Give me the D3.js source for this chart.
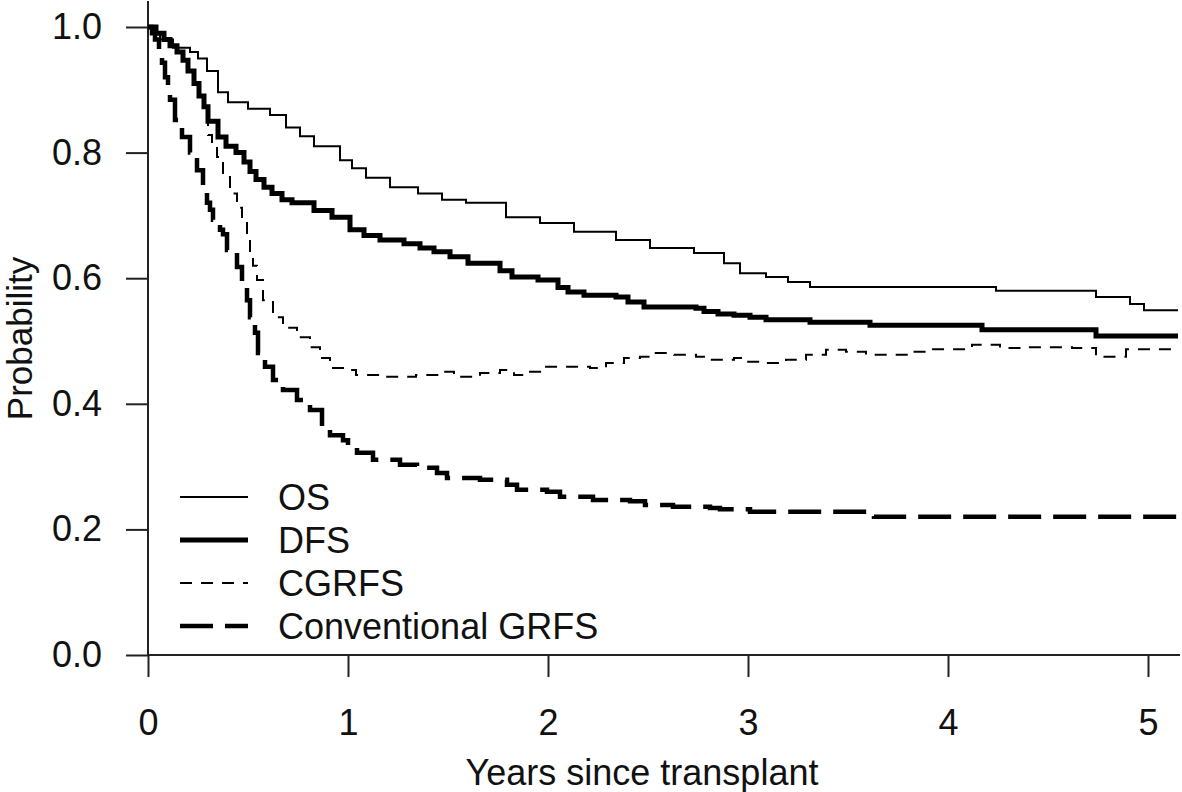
<!DOCTYPE html>
<html>
<head>
<meta charset="utf-8">
<script src="https://cdn.jsdelivr.net/npm/d3@7"></script>
<style>
  html, body { margin: 0; padding: 0; background: #fff; }
  svg text { font-family: "Liberation Sans", Arial, sans-serif; fill: #111; }
</style>
</head>
<body>
<svg id="chart" width="1182" height="792"></svg>
<script>
// ---- data ----
const seriesNames = ["OS", "DFS", "CGRFS", "Conventional GRFS"];

const osTime = [0, 0.02, 0.06, 0.125, 0.21, 0.25, 0.295, 0.35, 0.40, 0.5, 0.61, 0.69, 0.76, 0.83, 0.96, 1.02, 1.09, 1.21, 1.35, 1.47, 1.59, 1.79, 1.96, 2.13, 2.34, 2.51, 2.73, 2.88, 2.96, 3.09, 3.2, 3.31, 4.24, 4.74, 4.91, 4.98, 5.15];
const osSurv = [1.0, 0.99, 0.98, 0.967, 0.96, 0.95, 0.93, 0.896, 0.88, 0.87, 0.86, 0.84, 0.826, 0.81, 0.788, 0.775, 0.76, 0.745, 0.735, 0.725, 0.72, 0.697, 0.688, 0.674, 0.661, 0.648, 0.64, 0.624, 0.608, 0.602, 0.594, 0.586, 0.58, 0.57, 0.559, 0.549, 0.549];

const dfsTime = [0, 0.04, 0.08, 0.11, 0.145, 0.175, 0.2, 0.23, 0.255, 0.28, 0.3, 0.35, 0.39, 0.44, 0.48, 0.51, 0.54, 0.58, 0.62, 0.67, 0.72, 0.83, 0.92, 1.01, 1.08, 1.16, 1.28, 1.36, 1.43, 1.51, 1.6, 1.76, 1.82, 1.95, 2.05, 2.1, 2.18, 2.34, 2.4, 2.48, 2.74, 2.78, 2.85, 2.93, 3.01, 3.09, 3.31, 3.61, 4.17, 4.74, 5.15];
const dfsSurv = [1.0, 0.99, 0.98, 0.97, 0.96, 0.947, 0.93, 0.91, 0.89, 0.873, 0.85, 0.825, 0.81, 0.8, 0.785, 0.77, 0.757, 0.745, 0.735, 0.725, 0.72, 0.708, 0.697, 0.677, 0.668, 0.661, 0.655, 0.648, 0.642, 0.634, 0.624, 0.612, 0.602, 0.597, 0.585, 0.578, 0.573, 0.57, 0.562, 0.554, 0.552, 0.547, 0.543, 0.541, 0.538, 0.534, 0.53, 0.525, 0.518, 0.508, 0.508];

const cgrfsTime = [0, 0.04, 0.08, 0.11, 0.145, 0.175, 0.2, 0.23, 0.255, 0.28, 0.3, 0.32, 0.345, 0.375, 0.41, 0.445, 0.47, 0.495, 0.51, 0.525, 0.545, 0.575, 0.625, 0.675, 0.745, 0.81, 0.86, 0.91, 0.995, 1.04, 1.18, 1.34, 1.46, 1.53, 1.66, 1.76, 1.83, 1.91, 1.99, 2.21, 2.29, 2.38, 2.46, 2.53, 2.63, 2.74, 2.81, 2.93, 2.99, 3.09, 3.19, 3.29, 3.39, 3.49, 3.59, 3.82, 3.91, 4.12, 4.26, 4.39, 4.62, 4.74, 4.89, 5.15];
const cgrfsSurv = [1.0, 0.99, 0.98, 0.97, 0.96, 0.947, 0.93, 0.91, 0.89, 0.86, 0.828, 0.81, 0.793, 0.761, 0.735, 0.712, 0.69, 0.666, 0.64, 0.62, 0.597, 0.565, 0.538, 0.521, 0.506, 0.49, 0.473, 0.457, 0.454, 0.446, 0.443, 0.446, 0.451, 0.443, 0.449, 0.454, 0.446, 0.451, 0.459, 0.457, 0.465, 0.473, 0.475, 0.481, 0.478, 0.475, 0.47, 0.473, 0.467, 0.465, 0.47, 0.478, 0.486, 0.483, 0.478, 0.483, 0.487, 0.494, 0.489, 0.49, 0.489, 0.475, 0.487, 0.487];

const convTime = [0, 0.02, 0.035, 0.055, 0.07, 0.085, 0.1, 0.11, 0.135, 0.17, 0.21, 0.245, 0.275, 0.295, 0.31, 0.325, 0.36, 0.375, 0.395, 0.445, 0.47, 0.495, 0.51, 0.535, 0.55, 0.585, 0.625, 0.675, 0.745, 0.81, 0.87, 0.91, 0.975, 1.0, 1.045, 1.125, 1.26, 1.345, 1.445, 1.495, 1.66, 1.795, 1.845, 1.995, 2.06, 2.225, 2.41, 2.485, 2.625, 2.81, 2.86, 3.01, 3.63, 5.15];
const convSurv = [1.0, 0.99, 0.98, 0.96, 0.943, 0.92, 0.9, 0.884, 0.852, 0.825, 0.8, 0.772, 0.74, 0.72, 0.709, 0.693, 0.677, 0.67, 0.645, 0.618, 0.592, 0.565, 0.538, 0.513, 0.481, 0.459, 0.438, 0.422, 0.406, 0.39, 0.363, 0.35, 0.342, 0.334, 0.322, 0.311, 0.303, 0.298, 0.29, 0.282, 0.279, 0.271, 0.263, 0.26, 0.252, 0.247, 0.245, 0.239, 0.236, 0.234, 0.232, 0.228, 0.22, 0.22];

const xTicks = [0, 1, 2, 3, 4, 5];
const yTicks = [0.0, 0.2, 0.4, 0.6, 0.8, 1.0];
const xTitle = "Years since transplant";
const yTitle = "Probability";

// ---- chart ----
(function () {
const svg = d3.select("#chart");
const mLeft = 148, mBottom = 655, mTop = 27;
const x = d3.scaleLinear().domain([0, 5]).range([mLeft, 1148]);
const y = d3.scaleLinear().domain([0, 1]).range([mBottom, mTop]);
const xEnd = 1180, yTop = 1;
const axisColor = "#222";
const fontSize = 36;

// axes
const gx = svg.append("g").attr("transform", `translate(0,${mBottom})`)
  .call(d3.axisBottom(x).tickValues(xTicks).tickFormat(d3.format("d")).tickSize(22).tickPadding(32));
const gy = svg.append("g").attr("transform", `translate(${mLeft},0)`)
  .call(d3.axisLeft(y).tickValues(yTicks).tickFormat(d3.format(".1f")).tickSize(22).tickPadding(24));
[gx, gy].forEach(g => {
  g.select(".domain").remove();
  g.selectAll(".tick line").attr("stroke", axisColor).attr("stroke-width", 2);
  g.selectAll(".tick text").style("font-size", fontSize + "px").attr("fill", "#111")
    .style("font-family", '"Liberation Sans", Arial, sans-serif');
});
svg.append("line").attr("x1", mLeft).attr("x2", mLeft).attr("y1", yTop).attr("y2", mBottom)
  .attr("stroke", axisColor).attr("stroke-width", 2);
svg.append("line").attr("x1", mLeft).attr("x2", xEnd).attr("y1", mBottom).attr("y2", mBottom)
  .attr("stroke", axisColor).attr("stroke-width", 2);

// titles
svg.append("text").attr("x", 642).attr("y", 785)
  .attr("text-anchor", "middle").style("font-size", fontSize + "px").text(xTitle);
svg.append("text").attr("transform", `translate(32,${(257 + 420) / 2}) rotate(-90)`)
  .attr("text-anchor", "middle").style("font-size", "35px").text(yTitle);

// series
const series = [
  {name: seriesNames[0], t: osTime, s: osSurv, w: 2, dash: null},
  {name: seriesNames[1], t: dfsTime, s: dfsSurv, w: 5, dash: null},
  {name: seriesNames[2], t: cgrfsTime, s: cgrfsSurv, w: 2, dash: "12,9"},
  {name: seriesNames[3], t: convTime, s: convSurv, w: 4.5, dash: "33,12"}
];
const line = d3.line().x(d => x(d[0])).y(d => y(d[1])).curve(d3.curveStepAfter);
series.forEach(sr => {
  const pts = sr.t.map((t, i) => [t, sr.s[i]]);
  svg.append("path").datum(pts).attr("d", line)
    .attr("fill", "none").attr("stroke", "#000").attr("stroke-width", sr.w)
    .attr("stroke-dasharray", sr.dash).attr("stroke-linejoin", "miter");
});

// legend
const legY0 = 497, legDy = 43;
series.forEach((sr, i) => {
  const ly = legY0 + i * legDy;
  svg.append("line").attr("x1", 180).attr("x2", 248).attr("y1", ly).attr("y2", ly)
    .attr("stroke", "#000").attr("stroke-width", sr.w).attr("stroke-dasharray", sr.dash);
  svg.append("text").attr("x", 278).attr("y", ly + 13).style("font-size", fontSize + "px").text(sr.name);
});
})();
</script>
</body>
</html>
